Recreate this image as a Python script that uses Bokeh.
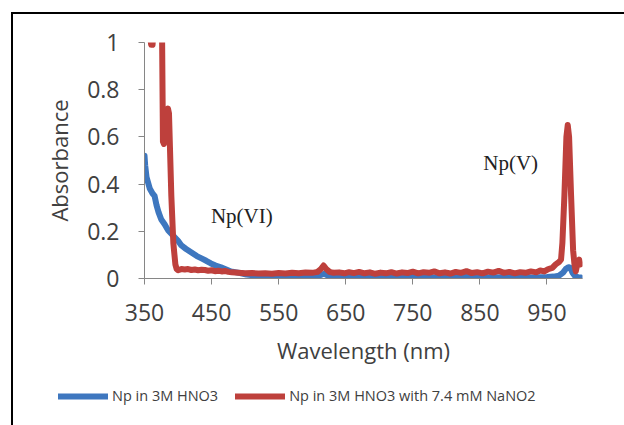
from bokeh.plotting import figure
from bokeh.layouts import column
from bokeh.models import FixedTicker, Label, Legend, LegendItem, Range1d
from bokeh.embed import file_html
from bokeh.resources import INLINE

# ---- data ----
x_ticks = [350, 450, 550, 650, 750, 850, 950]
y_ticks = [0, 0.2, 0.4, 0.6, 0.8, 1]
y_labels = ["0", "0.2", "0.4", "0.6", "0.8", "1"]

blue_wl = [350, 351, 353, 355, 358, 362, 365, 368, 371, 375, 380, 385, 390, 395, 400,
           405, 412, 420, 428, 435, 442, 449, 456, 464, 472, 479, 487, 494, 502, 515,
           530, 545, 560, 575, 590, 605, 612, 618, 624, 632, 650, 670, 690, 710, 730,
           750, 770, 790, 810, 830, 850, 870, 890, 910, 930, 950, 960, 968, 974, 978,
           982, 985, 988, 992, 996, 1000]
blue_abs = [0.52, 0.48, 0.43, 0.41, 0.38, 0.36, 0.35, 0.31, 0.28, 0.25, 0.23, 0.205, 0.19, 0.175, 0.16,
            0.14, 0.125, 0.11, 0.095, 0.085, 0.075, 0.064, 0.055, 0.047, 0.038, 0.03, 0.026, 0.022, 0.017, 0.013,
            0.01, 0.008, 0.009, 0.007, 0.009, 0.011, 0.014, 0.02, 0.012, 0.005, 0.004, 0.006, 0.003, 0.005, 0.004,
            0.006, 0.003, 0.005, 0.004, 0.006, 0.003, 0.005, 0.004, 0.006, 0.004, 0.006, 0.008, 0.012, 0.025, 0.04,
            0.048, 0.045, 0.025, 0.01, 0.006, 0.004]

red_wl = [358, 360, 362, 364, 370, 376, 377.5, 379, 381, 383, 385, 386.5, 388, 390, 393,
          396, 398, 400, 405, 410, 415, 420, 425, 430, 435, 440, 445, 450, 455, 460,
          465, 470, 475, 480, 490, 500, 510, 520, 530, 540, 550, 560, 570, 580, 590,
          600, 608, 613, 617, 621, 626, 632, 640, 648, 655, 662, 670, 678, 686, 694,
          702, 710, 718, 726, 734, 742, 750, 758, 766, 774, 782, 790, 798, 806, 814,
          822, 830, 838, 846, 854, 862, 870, 878, 886, 894, 902, 910, 918, 926, 934,
          940, 946, 952, 958, 963, 968, 971, 973, 976, 979, 981, 983, 986, 989, 991,
          993, 996, 998, 1000]
red_abs = [1.03, 0.99, 0.99, 1.08, 1.3, 1.1, 0.58, 0.57, 0.63, 0.70, 0.72, 0.70, 0.55, 0.35, 0.15,
           0.06, 0.04, 0.035, 0.04, 0.038, 0.04, 0.036, 0.038, 0.035, 0.037, 0.036, 0.033, 0.035, 0.031, 0.033,
           0.03, 0.032, 0.028, 0.026, 0.024, 0.022, 0.023, 0.021, 0.022, 0.02, 0.023, 0.021, 0.024, 0.022, 0.025,
           0.024, 0.028, 0.04, 0.055, 0.04, 0.028, 0.024, 0.026, 0.022, 0.027, 0.023, 0.028, 0.022, 0.026, 0.02,
           0.025, 0.022, 0.027, 0.021, 0.026, 0.023, 0.029, 0.022, 0.027, 0.024, 0.03, 0.022, 0.026, 0.021, 0.028,
           0.024, 0.031, 0.023, 0.027, 0.022, 0.029, 0.025, 0.032, 0.024, 0.028, 0.022, 0.027, 0.024, 0.03, 0.026,
           0.034, 0.03, 0.04, 0.045, 0.06, 0.07, 0.08, 0.15, 0.35, 0.6, 0.65, 0.6, 0.35, 0.12, 0.06,
           0.03, 0.07, 0.08, 0.06]

blue_name = "Np in 3M HNO3"
red_name = "Np in 3M HNO3 with 7.4 mM NaNO2"
BLUE = "#3E77BF"
RED = "#BE403C"
AXIS = "#868686"
TEXT = "#404040"
FONT = "Open Sans"
LINE = dict(line_width=6, line_join="round", line_cap="round")

# ---- main chart ----
p = figure(width=611, height=370, x_range=Range1d(350, 1003), y_range=Range1d(0, 1),
           output_backend="svg", toolbar_location=None, frame_align=False,
           min_border_left=131, min_border_right=42, min_border_top=28, min_border_bottom=106)
p.outline_line_color = None
p.grid.visible = False
p.background_fill_color = "white"
p.border_fill_color = "white"

for ax in (p.xaxis[0], p.yaxis[0]):
    ax.axis_line_color = AXIS
    ax.major_tick_line_color = AXIS
    ax.minor_tick_line_color = None
    ax.major_tick_out = 6
    ax.major_tick_in = 0
    ax.major_label_text_font = FONT
    ax.major_label_text_font_size = "23px"
    ax.major_label_text_color = TEXT
    ax.axis_label_text_font = FONT
    ax.axis_label_text_font_style = "normal"
    ax.axis_label_text_color = TEXT

p.xaxis.ticker = FixedTicker(ticks=x_ticks)
p.yaxis.ticker = FixedTicker(ticks=y_ticks)
p.yaxis.major_label_overrides = dict(zip(y_ticks, y_labels))
p.xaxis.axis_label = "Wavelength (nm)"
p.yaxis.axis_label = "Absorbance"
p.xaxis.axis_label_text_font_size = "22px"
p.yaxis.axis_label_text_font_size = "22px"
p.xaxis.major_label_standoff = 19
p.yaxis.major_label_standoff = 19
p.xaxis.axis_label_standoff = 11
p.yaxis.axis_label_standoff = 10

p.line(blue_wl, blue_abs, line_color=BLUE, **LINE)
p.line(red_wl, red_abs, line_color=RED, **LINE)

p.add_layout(Label(x=449, y=0.266, text="Np(VI)", text_font="Liberation Serif",
                   text_font_size="21px", text_color="#222222", text_baseline="alphabetic"))
p.add_layout(Label(x=855, y=0.489, text="Np(V)", text_font="Liberation Serif",
                   text_font_size="21px", text_color="#222222", text_baseline="alphabetic"))

# ---- legend strip below the chart (same series, drawn outside its view) ----
q = figure(width=611, height=41, x_range=Range1d(0, 1), y_range=Range1d(0, 1),
           output_backend="svg", toolbar_location=None, frame_align=False,
           min_border_left=0, min_border_right=0, min_border_top=0, min_border_bottom=0)
q.axis.visible = False
q.grid.visible = False
q.outline_line_color = None
q.background_fill_color = "white"
q.border_fill_color = "white"
lb = q.line(blue_wl, blue_abs, line_color=BLUE, **LINE)
lr = q.line(red_wl, red_abs, line_color=RED, **LINE)
legend = Legend(items=[LegendItem(label=blue_name, renderers=[lb]),
                       LegendItem(label=red_name, renderers=[lr])],
                orientation="horizontal", location=(45, 20),
                glyph_width=50, glyph_height=16, label_standoff=4, spacing=17,
                padding=0, margin=0, border_line_color=None, background_fill_alpha=0,
                label_text_font=FONT, label_text_font_size="14.5px", label_text_color=TEXT)
q.add_layout(legend)

layout = column(p, q, spacing=0,
                styles={"margin-left": "11px", "margin-top": "12px",
                        "border-top": "2px solid #000", "border-left": "2px solid #000"})

open("out.html", "w").write(file_html(layout, INLINE))
